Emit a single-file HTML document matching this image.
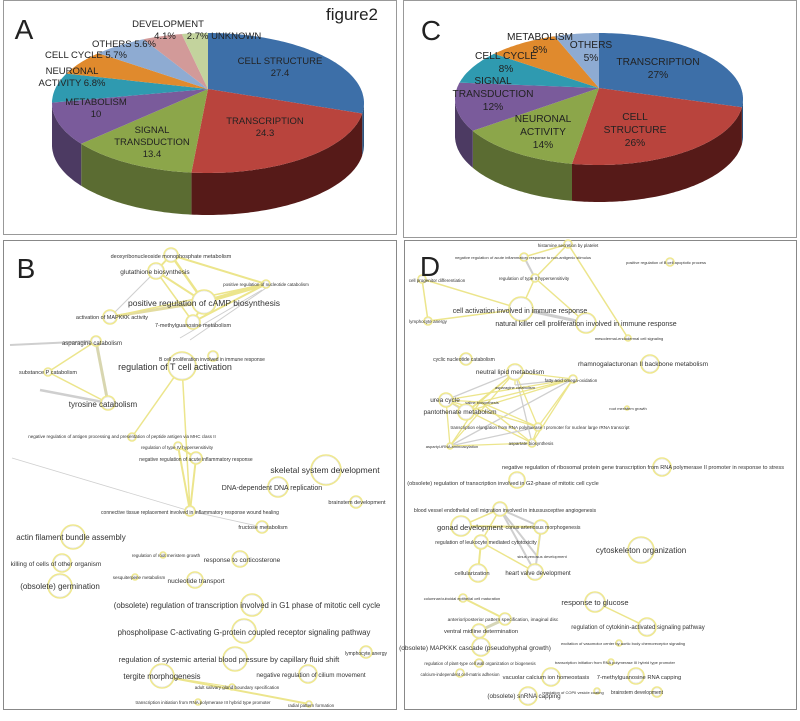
<!DOCTYPE html>
<html><head><meta charset="utf-8">
<style>
html,body{margin:0;padding:0;background:#fff;}
svg{display:block;font-family:"Liberation Sans",Arial,sans-serif;}
.p text{font-family:"Liberation Sans",sans-serif;fill:#222;text-anchor:middle;}
.n text{fill:#333;text-anchor:middle;}
</style></head>
<body>
<svg id="s" width="800" height="721" viewBox="0 0 800 721" xmlns="http://www.w3.org/2000/svg">
<rect width="800" height="721" fill="#fff"/>
<rect x="3.5" y="0.5" width="393" height="234" fill="none" stroke="#999" stroke-width="1"/>
<rect x="403.5" y="0.5" width="393" height="237" fill="none" stroke="#999" stroke-width="1"/>
<rect x="3.5" y="240.5" width="393" height="469" fill="none" stroke="#888" stroke-width="1"/>
<rect x="404.5" y="240.5" width="392" height="469" fill="none" stroke="#888" stroke-width="1"/>
<g id="pies"></g>
<g id="edges"></g>
<g id="nodes"></g>
<g class="p">
<text x="24" y="39" font-size="28" style="text-anchor:middle">A</text>
<text x="352" y="20" font-size="17">figure2</text>
<g font-size="9.5">
<text x="168" y="27">DEVELOPMENT</text>
<text x="165" y="39">4.1%</text>
<text x="224" y="39">2.7% UNKNOWN</text>
<text x="124" y="47">OTHERS 5.6%</text>
<text x="86" y="58">CELL CYCLE 5.7%</text>
<text x="72" y="74">NEURONAL</text>
<text x="72" y="86">ACTIVITY 6.8%</text>
<text x="96" y="105">METABOLISM</text>
<text x="96" y="117">10</text>
<text x="280" y="64">CELL STRUCTURE</text>
<text x="280" y="76">27.4</text>
<text x="265" y="124">TRANSCRIPTION</text>
<text x="265" y="136">24.3</text>
<text x="152" y="133">SIGNAL</text>
<text x="152" y="145">TRANSDUCTION</text>
<text x="152" y="157">13.4</text>
</g>
<text x="431" y="40" font-size="28">C</text>
<g font-size="10.2">
<text x="540" y="40">METABOLISM</text>
<text x="540" y="53">8%</text>
<text x="591" y="48">OTHERS</text>
<text x="591" y="61">5%</text>
<text x="506" y="59">CELL CYCLE</text>
<text x="506" y="72">8%</text>
<text x="493" y="84">SIGNAL</text>
<text x="493" y="97">TRANSDUCTION</text>
<text x="493" y="110">12%</text>
<text x="658" y="65">TRANSCRIPTION</text>
<text x="658" y="78">27%</text>
<text x="635" y="120">CELL</text>
<text x="635" y="133">STRUCTURE</text>
<text x="635" y="146">26%</text>
<text x="543" y="122">NEURONAL</text>
<text x="543" y="135">ACTIVITY</text>
<text x="543" y="148">14%</text>
</g>
<text x="26" y="278" font-size="28">B</text>
<text x="430" y="276" font-size="28">D</text>
</g>
<g class="n">
<text x="171" y="258" font-size="5.5">deoxyribonucleoside monophosphate metabolism</text>
<text x="155" y="274" font-size="6.5">glutathione biosynthesis</text>
<text x="266" y="286" font-size="4.5">positive regulation of nucleotide catabolism</text>
<text x="204" y="306" font-size="8.5">positive regulation of cAMP biosynthesis</text>
<text x="112" y="319" font-size="5.5">activation of MAPKKK activity</text>
<text x="193" y="327" font-size="5.5">7-methylguanosine metabolism</text>
<text x="92" y="345" font-size="6">asparagine catabolism</text>
<text x="212" y="361" font-size="5">B cell proliferation involved in immune response</text>
<text x="175" y="370" font-size="9">regulation of T cell activation</text>
<text x="48" y="374" font-size="5.5">substance P catabolism</text>
<text x="103" y="407" font-size="8">tyrosine catabolism</text>
<text x="122" y="438" font-size="4.5">negative regulation of antigen processing and presentation of peptide antigen via MHC class II</text>
<text x="177" y="449" font-size="4.5">regulation of type IV hypersensitivity</text>
<text x="196" y="461" font-size="5">negative regulation of acute inflammatory response</text>
<text x="325" y="473" font-size="8.5">skeletal system development</text>
<text x="272" y="490" font-size="7">DNA-dependent DNA replication</text>
<text x="357" y="504" font-size="5.5">brainstem development</text>
<text x="190" y="514" font-size="5">connective tissue replacement involved in inflammatory response wound healing</text>
<text x="263" y="529" font-size="5.5">fructose metabolism</text>
<text x="71" y="540" font-size="8">actin filament bundle assembly</text>
<text x="166" y="557" font-size="4.5">regulation of root meristem growth</text>
<text x="242" y="562" font-size="6.5">response to corticosterone</text>
<text x="56" y="566" font-size="6.5">killing of cells of other organism</text>
<text x="139" y="579" font-size="4.5">sesquiterpene metabolism</text>
<text x="196" y="583" font-size="6.5">nucleotide transport</text>
<text x="60" y="589" font-size="8">(obsolete) germination</text>
<text x="247" y="608" font-size="7.8">(obsolete) regulation of transcription involved in G1 phase of mitotic cell cycle</text>
<text x="244" y="635" font-size="7.8">phospholipase C-activating G-protein coupled receptor signaling pathway</text>
<text x="229" y="662" font-size="7.5">regulation of systemic arterial blood pressure by capillary fluid shift</text>
<text x="366" y="655" font-size="5">lymphocyte anergy</text>
<text x="162" y="679" font-size="7.8">tergite morphogenesis</text>
<text x="311" y="677" font-size="6.3">negative regulation of cilium movement</text>
<text x="237" y="689" font-size="4.5">adult salivary gland boundary specification</text>
<text x="203" y="704" font-size="4.5">transcription initiation from RNA polymerase III hybrid type promoter</text>
<text x="311" y="707" font-size="4.5">radial pattern formation</text>

<text x="568" y="247" font-size="4.5">histamine secretion by platelet</text>
<text x="523" y="259" font-size="4">negative regulation of acute inflammatory response to non-antigenic stimulus</text>
<text x="666" y="264" font-size="4">positive regulation of B cell apoptotic process</text>
<text x="437" y="282" font-size="4.5">cell progenitor differentiation</text>
<text x="534" y="280" font-size="4.5">regulation of type II hypersensitivity</text>
<text x="520" y="313" font-size="7">cell activation involved in immune response</text>
<text x="428" y="323" font-size="4.5">lymphocyte anergy</text>
<text x="586" y="326" font-size="7">natural killer cell proliferation involved in immune response</text>
<text x="629" y="340" font-size="4">mesodermal-endodermal cell signaling</text>
<text x="464" y="361" font-size="5">cyclic nucleotide catabolism</text>
<text x="643" y="366" font-size="6.5">rhamnogalacturonan II backbone metabolism</text>
<text x="510" y="374" font-size="6.5">neutral lipid metabolism</text>
<text x="571" y="382" font-size="4.5">fatty acid omega-oxidation</text>
<text x="515" y="389" font-size="4">asparagine catabolism</text>
<text x="445" y="402" font-size="6.5">urea cycle</text>
<text x="482" y="404" font-size="4">valine biosynthesis</text>
<text x="460" y="414" font-size="6.5">pantothenate metabolism</text>
<text x="628" y="410" font-size="4">root meristem growth</text>
<text x="540" y="429" font-size="4.5">transcription elongation from RNA polymerase I promoter for nuclear large rRNA transcript</text>
<text x="452" y="448" font-size="4">aspartyl-tRNA aminoacylation</text>
<text x="531" y="445" font-size="4.5">aspartate biosynthesis</text>
<text x="643" y="469" font-size="5.6">negative regulation of ribosomal protein gene transcription from RNA polymerase II promoter in response to stress</text>
<text x="503" y="485" font-size="5.6">(obsolete) regulation of transcription involved in G2-phase of mitotic cell cycle</text>
<text x="505" y="512" font-size="5.2">blood vessel endothelial cell migration involved in intussusceptive angiogenesis</text>
<text x="470" y="530" font-size="7.5">gonad development</text>
<text x="543" y="529" font-size="5.2">conus arteriosus morphogenesis</text>
<text x="486" y="544" font-size="5.2">regulation of leukocyte mediated cytotoxicity</text>
<text x="641" y="553" font-size="8">cytoskeleton organization</text>
<text x="542" y="558" font-size="4">sinus venosus development</text>
<text x="472" y="575" font-size="5.8">cellularization</text>
<text x="538" y="575" font-size="6">heart valve development</text>
<text x="462" y="600" font-size="4">columnar/cuboidal epithelial cell maturation</text>
<text x="595" y="605" font-size="7.5">response to glucose</text>
<text x="503" y="621" font-size="4.8">anterior/posterior pattern specification, imaginal disc</text>
<text x="638" y="629" font-size="6">regulation of cytokinin-activated signaling pathway</text>
<text x="481" y="633" font-size="5.8">ventral midline determination</text>
<text x="623" y="645" font-size="4">excitation of vasomotor center by aortic body chemoreceptor signaling</text>
<text x="475" y="650" font-size="6.5">(obsolete) MAPKKK cascade (pseudohyphal growth)</text>
<text x="480" y="665" font-size="4.3">regulation of plant-type cell wall organization or biogenesis</text>
<text x="615" y="664" font-size="4">transcription initiation from RNA polymerase III hybrid type promoter</text>
<text x="460" y="676" font-size="4.3">calcium-independent cell-matrix adhesion</text>
<text x="546" y="679" font-size="5.8">vacuolar calcium ion homeostasis</text>
<text x="639" y="679" font-size="5.8">7-methylguanosine RNA capping</text>
<text x="524" y="698" font-size="6.3">(obsolete) snRNA capping</text>
<text x="573" y="694" font-size="4">regulation of COPII vesicle coating</text>
<text x="637" y="694" font-size="5">brainstem development</text>
</g>
</svg>
<script>
var NS="http://www.w3.org/2000/svg";
function el(p,t,a){var e=document.createElementNS(NS,t);for(var k in a)e.setAttribute(k,a[k]);p.appendChild(e);return e;}
var pies=document.getElementById("pies");
function pie(cx,cy,rx,ry,d,ay,sl){
  var pt=function(t,dy){return [cx+rx*Math.sin(t*Math.PI/180),cy-ry*Math.cos(t*Math.PI/180)+(dy||0)];};
  var a=0,arr=[];
  sl.forEach(function(s){var b=a+s[0]*3.6;arr.push([a,b,s[1],s[2]]);a=b;});
  arr.forEach(function(s){
    var lo=Math.max(s[0],90),hi=Math.min(s[1],270);
    if(hi<=lo)return;
    var P=[];for(var t=lo;t<=hi;t+=1)P.push(pt(t));P.push(pt(hi));
    var Q=[];for(var t=hi;t>=lo;t-=1)Q.push(pt(t,d));Q.push(pt(lo,d));
    var str=P.concat(Q).map(function(p){return p[0].toFixed(1)+","+p[1].toFixed(1)}).join(" ");
    el(pies,"polygon",{points:str,fill:s[3]});
  });
  arr.forEach(function(s){
    var P=[[cx,ay]];for(var t=s[0];t<=s[1];t+=1)P.push(pt(t));P.push(pt(s[1]));
    el(pies,"polygon",{points:P.map(function(p){return p[0].toFixed(1)+","+p[1].toFixed(1)}).join(" "),fill:s[2]});
  });
}
pie(208,103,156,70,42,89,[[27.4,"#3d6fa8","#2c5580"],[24.3,"#b9443d","#561a18"],[13.4,"#8ca64a","#5b6c32"],[10,"#7a5b9b","#4c3a62"],[6.8,"#2f9ab0","#1f6676"],[5.7,"#e08a2d","#94591c"],[5.6,"#8eabd2","#5d7390"],[4.1,"#d29a99","#8c6464"],[2.7,"#c3d39d","#7f8a66"]]);
pie(599,99,144,66,37,88,[[27,"#3d6fa8","#2c5580"],[26,"#b9443d","#561a18"],[14,"#8ca64a","#5b6c32"],[12,"#7a5b9b","#4c3a62"],[8,"#2f9ab0","#1f6676"],[8,"#e08a2d","#94591c"],[5,"#8eabd2","#5d7390"]]);
var E=document.getElementById("edges");
var Y="#ece58c",G="#cfcfcf";
[[10,345,96,341,G,2],[40,390,108,403,G,2.5],[12,458,190,511,G,0.8],[180,338,262,290,G,1],[190,340,266,288,G,1],[156,271,110,317,G,1],
[171,255,156,271,Y,2],[171,255,204,302,Y,2.5],[171,255,266,284,Y,2],[156,271,204,302,Y,2],[156,271,193,322,Y,1.5],[204,302,266,284,Y,4],[204,302,193,322,Y,2],[193,322,266,284,Y,2],[110,317,204,302,"#e3dca0",3],[110,317,266,284,Y,1.5],
[96,341,48,372,Y,1.5],[96,341,108,403,"#d8d6b0",3],[48,372,108,403,Y,1.5],[182,366,132,437,Y,1.5],[182,366,190,511,Y,1.5],[178,446,196,458,Y,2],[178,446,190,511,Y,2],[196,458,190,511,Y,2],[190,511,262,527,G,0.8],[162,676,309,704,Y,2],[162,676,232,687,Y,1],
[568,244,524,257,Y,1.5],[568,244,535,278,Y,1.5],[568,244,628,338,Y,1.5],[524,257,535,278,G,2],[535,278,521,309,Y,1.5],[535,278,586,323,Y,1.5],[422,279,428,321,Y,1.5],[422,279,521,309,Y,1.5],[428,321,521,309,Y,1.5],[521,309,586,323,G,3],
[500,509,461,526,Y,1.5],[500,509,541,527,G,2],[500,509,481,542,Y,1.5],[500,509,537,556,G,2],[500,509,535,572,G,2],[461,526,541,527,Y,2],[481,542,478,573,Y,2],[481,542,535,572,Y,1.5],[541,527,535,572,G,2],[541,527,537,556,Y,1.5],
[463,598,505,619,Y,2],[505,619,479,631,"#d6d6b8",3],[595,602,647,627,Y,1.5]
].forEach(function(e){el(E,"line",{x1:e[0],y1:e[1],x2:e[2],y2:e[3],stroke:e[4],"stroke-width":e[5]});});
var M=[[466,359],[515,372],[573,379],[515,385],[446,400],[480,402],[466,412],[538,427],[450,446],[532,443]];
for(var i=0;i<M.length;i++)for(var j=i+1;j<M.length;j++)if((i*7+j*3)%3!=0)el(E,"line",{x1:M[i][0],y1:M[i][1],x2:M[j][0],y2:M[j][1],stroke:(i+j)%5==0?G:Y,"stroke-width":1.3});
var N=document.getElementById("nodes");
[[171,255,7],[156,271,8],[266,284,4],[204,302,12],[110,317,7],[193,322,7],[96,341,5],[213,356,5],[182,366,14],[48,372,4],[108,403,7],[132,437,4],[178,446,4],[196,458,6],[326,470,15],[278,487,10],[356,502,6],[190,511,5],[262,527,6],[73,537,12],[163,555,3],[240,559,8],[62,563,9],[135,577,3],[195,580,8],[60,586,12],[252,605,11],[244,631,12],[235,659,12],[366,652,6],[162,676,12],[308,674,9],[232,687,3],[198,702,3],[309,704,3],
[568,244,4],[524,257,4],[670,262,4],[422,279,4],[535,278,4],[521,309,12],[428,321,4],[586,323,10],[628,338,3],[466,359,6],[650,364,9],[515,372,8],[573,379,4],[446,400,7],[466,412,8],[627,408,2],[538,427,4],[450,446,3],[532,443,4],[662,467,9],[517,480,8],[500,509,7],[461,526,10],[541,527,7],[481,542,7],[641,550,13],[478,573,9],[535,572,8],[463,598,4],[595,602,10],[505,619,6],[647,627,9],[479,631,7],[619,643,3],[481,647,9],[479,663,4],[611,662,3],[460,673,4],[551,677,9],[636,676,8],[528,696,9],[597,691,3],[657,692,5]
].forEach(function(c){el(N,"circle",{cx:c[0],cy:c[1],r:c[2],fill:"#fff",stroke:"#efe88e","stroke-width":1.6});el(N,"circle",{cx:c[0],cy:c[1],r:Math.max(c[2]-1,1),fill:"none",stroke:"#ddd","stroke-width":0.5});});
</script>
</body></html>
